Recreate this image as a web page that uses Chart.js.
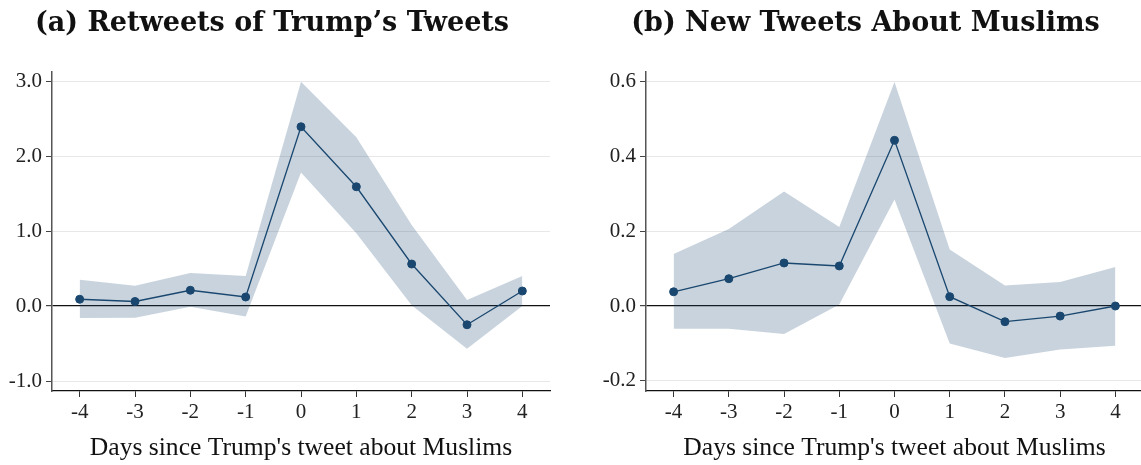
<!DOCTYPE html>
<html>
<head>
<meta charset="utf-8">
<script src="https://cdn.jsdelivr.net/npm/chart.js@4.4.1/dist/chart.umd.min.js"></script>
<style>
  html, body { margin: 0; padding: 0; background: #fff; }
  body { width: 1141px; height: 465px; overflow: hidden; position: relative; }
  canvas { position: absolute; top: 0; }
  #retweets { left: 0; }
  #newTweets { left: 590px; }
</style>
</head>
<body>
<canvas id="retweets" width="570" height="465"></canvas>
<canvas id="newTweets" width="570" height="465"></canvas>
<script>
// Event-study estimates: days relative to Trump's tweet about Muslims
const days = [-4, -3, -2, -1, 0, 1, 2, 3, 4];

// Panel (a): retweets of Trump's tweets
const retweetCoef  = [0.09, 0.06, 0.21, 0.12, 2.39, 1.59, 0.56, -0.25, 0.20];
const retweetUpper = [0.35, 0.27, 0.44, 0.40, 2.99, 2.25, 1.08, 0.08, 0.40];
const retweetLower = [-0.16, -0.155, -0.01, -0.14, 1.78, 0.97, 0.01, -0.57, 0.00];
const retweetTicks = [-1, 0, 1, 2, 3];

// Panel (b): new tweets about Muslims
const newCoef  = [0.038, 0.073, 0.115, 0.107, 0.443, 0.025, -0.042, -0.027, 0.0];
const newUpper = [0.139, 0.206, 0.306, 0.211, 0.599, 0.151, 0.055, 0.064, 0.104];
const newLower = [-0.061, -0.061, -0.075, 0.004, 0.285, -0.100, -0.139, -0.116, -0.106];
const newTicks = [-0.2, 0, 0.2, 0.4, 0.6];

const xTitle = "Days since Trump's tweet about Muslims";

const NAVY = '#1a476f';
const BAND = 'rgba(26, 71, 111, 0.24)';
const SERIF = '"Liberation Serif", "Times New Roman", serif';

// Bold panel heading drawn above each plot
const panelTitle = {
  id: 'panelTitle',
  afterDraw(chart, args, opts) {
    const { ctx, chartArea } = chart;
    ctx.save();
    ctx.font = 'bold 27px "DejaVu Serif", serif';
    ctx.fillStyle = '#111';
    ctx.textAlign = 'center';
    ctx.textBaseline = 'alphabetic';
    ctx.fillText(opts.text, (chartArea.left + chartArea.right) / 2 + opts.shift, opts.baseline);
    ctx.restore();
  }
};

function pairs(ys) {
  return days.map((d, i) => ({ x: d, y: ys[i] }));
}

function buildChart(canvasId, cfg) {
  return new Chart(document.getElementById(canvasId), {
    type: 'line',
    data: {
      datasets: [
        {
          label: 'upper',
          data: pairs(cfg.upper),
          borderWidth: 0,
          pointRadius: 0,
          backgroundColor: BAND,
          fill: '+1',
          order: 2
        },
        {
          label: 'lower',
          data: pairs(cfg.lower),
          borderWidth: 0,
          pointRadius: 0,
          fill: false,
          order: 3
        },
        {
          label: 'estimate',
          data: pairs(cfg.coef),
          borderColor: NAVY,
          borderWidth: 1.3,
          pointRadius: 4,
          pointBackgroundColor: NAVY,
          pointBorderColor: NAVY,
          pointBorderWidth: 1,
          fill: false,
          tension: 0,
          order: 0
        }
      ]
    },
    options: {
      responsive: false,
      animation: false,
      events: [],
      layout: { padding: { left: 0, right: cfg.padRight, top: 72, bottom: 0 } },
      plugins: {
        legend: { display: false },
        tooltip: { enabled: false },
        panelTitle: { text: cfg.title, shift: -29, baseline: 31 }
      },
      scales: {
        x: {
          type: 'linear',
          min: -4.5,
          max: 4.5,
          afterBuildTicks: s => { s.ticks = days.map(v => ({ value: v })); },
          afterFit: s => { s.height = 74; },
          ticks: {
            font: { family: SERIF, size: 21 },
            color: '#222',
            padding: 3,
            maxRotation: 0,
            callback: v => String(v)
          },
          grid: {
            drawOnChartArea: false,
            drawTicks: true,
            tickLength: 6,
            tickColor: '#333'
          },
          border: { color: '#111', width: 1.3 },
          title: {
            display: true,
            text: xTitle,
            font: { family: SERIF, size: 25.6 },
            color: '#111',
            padding: { top: 0, bottom: 1 }
          }
        },
        y: {
          type: 'linear',
          min: cfg.yMin,
          max: cfg.yMax,
          afterBuildTicks: s => { s.ticks = cfg.ticks.map(v => ({ value: v })); },
          afterFit: s => { s.width = cfg.yWidth; },
          ticks: {
            font: { family: SERIF, size: 21 },
            color: '#222',
            padding: 4,
            callback: v => Number(v).toFixed(1)
          },
          grid: {
            color: c => (c.tick && Math.abs(c.tick.value) < 1e-9) ? '#111' : '#e8e8e8',
            lineWidth: c => (c.tick && Math.abs(c.tick.value) < 1e-9) ? 1.2 : 1,
            drawTicks: true,
            tickLength: 6,
            tickColor: '#444'
          },
          border: { color: '#555', width: 1.5 }
        }
      }
    },
    plugins: [panelTitle]
  });
}

buildChart('retweets', {
  title: '(a) Retweets of Trump\u2019s Tweets',
  coef: retweetCoef, upper: retweetUpper, lower: retweetLower,
  ticks: retweetTicks,
  yMin: -85 / 75, yMax: 234 / 75,
  yWidth: 52, padRight: 20
});

buildChart('newTweets', {
  title: '(b) New Tweets About Muslims',
  coef: newCoef, upper: newUpper, lower: newLower,
  ticks: newTicks,
  yMin: -85 / 374, yMax: 234 / 374,
  yWidth: 56, padRight: 17
});
</script>
</body>
</html>
